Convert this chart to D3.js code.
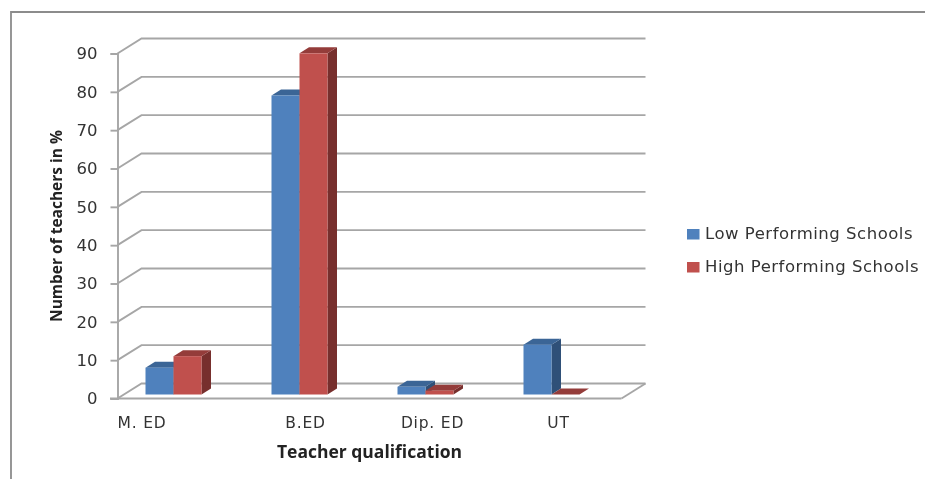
<!DOCTYPE html>
<html><head><meta charset="utf-8">
<script src="https://cdn.jsdelivr.net/npm/d3@7"></script>
<style>html,body{margin:0;padding:0;background:#fff}svg{display:block;filter:blur(0.45px)}</style>
</head><body><div id="c"></div>
<script>
const categories = ["M. ED", "B.ED", "Dip. ED", "UT"];
const seriesNames = ["Low Performing Schools", "High Performing Schools"];
const lowPerforming = [7, 78, 2, 13];
const highPerforming = [10, 89, 1, 0];
const tickValues = [0, 10, 20, 30, 40, 50, 60, 70, 80, 90];
const faceColors = ["#4f81bd", "#c0504d"];
const topColors = ["#3b6596", "#943c3a"];
const sideColors = ["#2f5078", "#772f2d"];

const W = 925, H = 479, gridColor = "#a6a6a6", textColor = "#333";
const svg = d3.select("#c").append("svg").attr("width", W).attr("height", H);

// outer frame (cropped at right and bottom)
svg.append("path").attr("d", `M11,${H + 5}V12H${W + 5}`).attr("fill", "none").attr("stroke", "#8c8c8c").attr("stroke-width", 1.8);

const x0 = d3.scaleBand().domain(categories).range([117.5, 621.5]);
const x1 = d3.scaleBand().domain([0, 1]).range([28, 84]);
const y = d3.scaleLinear().domain([0, 90]).range([398.5, 53.5]);
const yBar = v => y(v) - 4;
const wallDx = 24, wallDy = -15, barDx = 9.5, barDy = -6;

// back wall gridlines and side wall diagonals
const grid = svg.append("g").attr("fill", "none").attr("stroke", gridColor).attr("stroke-width", 1.9);
tickValues.forEach(v => {
  grid.append("path").attr("d", `M117.5,${y(v)}l${wallDx},${wallDy}H${621.5 + wallDx}`);
});
grid.append("path").attr("d", `M621.5,${y(0)}l${wallDx},${wallDy}`);

// axes
const axisY = d3.axisLeft(y).tickValues(tickValues).tickSize(7).tickPadding(13);
const gy = svg.append("g").attr("transform", "translate(117.5,0)").call(axisY);
gy.selectAll("path,line").attr("stroke", gridColor).attr("stroke-width", 1.9);
gy.selectAll("text").attr("font-family", "DejaVu Sans").attr("font-size", 16.5).attr("fill", textColor);

const axisX = d3.axisBottom(x0).tickSize(0).tickSizeOuter(0);
const gx = svg.append("g").attr("transform", `translate(0,${y(0)})`).call(axisX);
gx.select("path").attr("stroke", gridColor).attr("stroke-width", 1.9).attr("d", "M110,0H621.5");
gx.selectAll("text").attr("font-family", "DejaVu Sans").attr("font-size", 15.5).attr("letter-spacing", 0.8).attr("fill", textColor)
  .attr("y", 24.5).attr("dy", "0.35em")
  .attr("x", (d, i) => [-38.5, -1, 0, 0][i]);

// bars
const series = [lowPerforming, highPerforming];
const barW = x1.bandwidth();
categories.forEach((c, ci) => {
  series.forEach((vals, si) => {
    const g = svg.append("g");
    const L = x0(c) + x1(si), T = yBar(vals[ci]), B = yBar(0);
    g.append("path").attr("fill", sideColors[si])
      .attr("d", `M${L + barW},${T}l${barDx},${barDy}V${B + barDy}l${-barDx},${-barDy}Z`);
    g.append("path").attr("fill", topColors[si])
      .attr("d", `M${L},${T}l${barDx},${barDy}h${barW}l${-barDx},${-barDy}Z`);
    g.append("rect").attr("x", L).attr("y", T).attr("width", barW).attr("height", B - T).attr("fill", faceColors[si]);
  });
});

// axis titles
svg.append("text").attr("x", 369.5).attr("y", 457.5).attr("text-anchor", "middle")
  .attr("font-family", "Open Sans").attr("font-weight", 700).attr("font-size", 17.5).attr("fill", "#222")
  .text("Teacher qualification");
svg.append("text").attr("transform", "translate(62,226) rotate(-90)").attr("text-anchor", "middle")
  .attr("font-family", "Open Sans").attr("font-weight", 700).attr("font-size", 15.5).attr("fill", "#222")
  .text("Number of teachers in %");

// legend
const lg = svg.append("g").selectAll("g").data(seriesNames).join("g")
  .attr("transform", (d, i) => `translate(687,${233.5 + i * 33})`);
lg.append("rect").attr("x", 0).attr("y", -4.5).attr("width", 12.5).attr("height", 10.5).attr("fill", (d, i) => faceColors[i]);
lg.append("text").attr("x", 18).attr("y", 0).attr("dy", "0.35em")
  .attr("font-family", "DejaVu Sans").attr("font-size", 16.5).attr("letter-spacing", 0.52).attr("fill", textColor).text(d => d);
</script></body></html>
